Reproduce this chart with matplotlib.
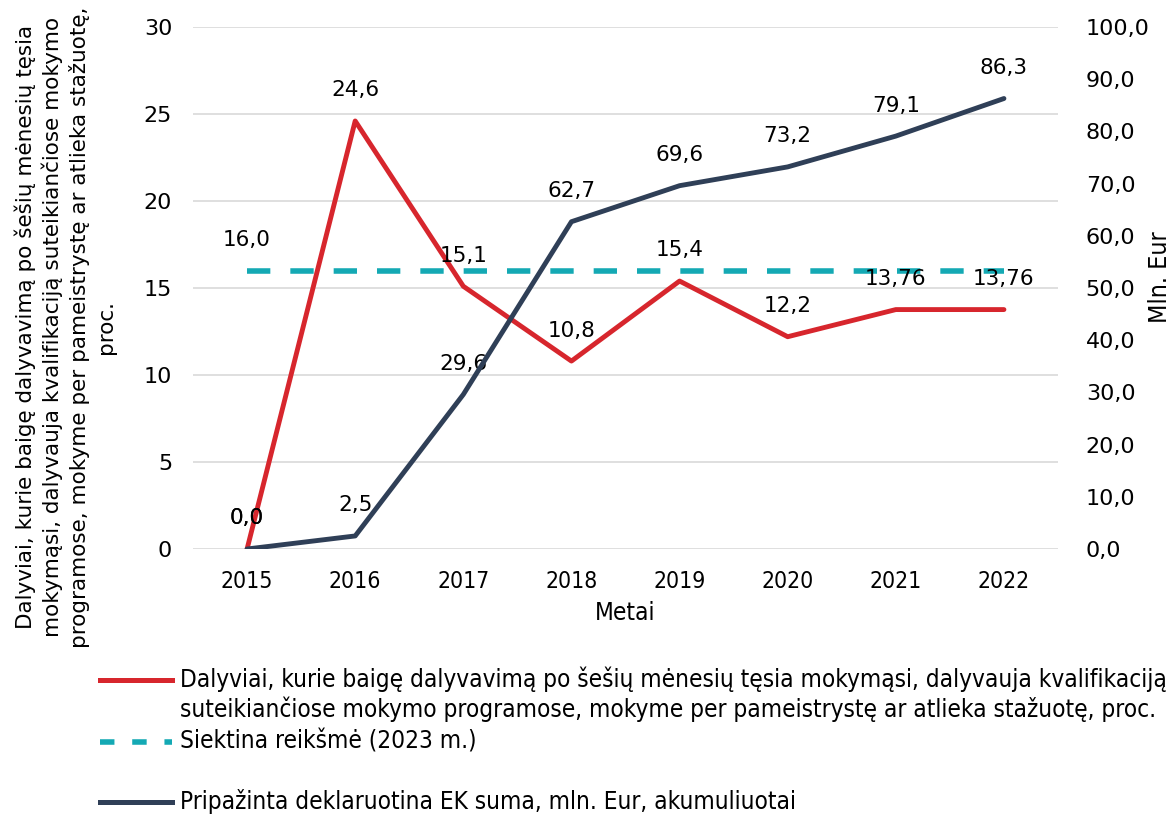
import matplotlib
matplotlib.use('Agg')
import matplotlib.pyplot as plt
from matplotlib.lines import Line2D

plt.rcParams.update({'font.family': 'DejaVu Sans', 'font.size': 15})
NARROW = dict(family='DejaVu Sans', stretch='condensed')

years = ['2015', '2016', '2017', '2018', '2019', '2020', '2021', '2022']
share = [0.0, 24.6, 15.1, 10.8, 15.4, 12.2, 13.76, 13.76]
share_lbl = ['0,0', '24,6', '15,1', '10,8', '15,4', '12,2', '13,76', '13,76']
target = [16.0] * 8
amount = [0.0, 2.5, 29.6, 62.7, 69.6, 73.2, 79.1, 86.3]

RED = '#D7262D'
TEAL = '#14A9B4'
NAVY = '#2F3F57'

W, H = 1174, 814
fig = plt.figure(figsize=(W / 100, H / 100), dpi=100, facecolor='white')
ax = fig.add_axes([193 / W, 1 - 549 / H, 865 / W, 522 / H])
ax2 = ax.twinx()
x = list(range(len(years)))

ax.plot(x, target, color=TEAL, lw=4.0, dashes=(4.2, 3.6), zorder=3)
ax.plot(x, share, color=RED, lw=3.5, zorder=4, solid_capstyle='round')
ax2.plot(x, amount, color=NAVY, lw=3.5, zorder=4, solid_capstyle='round')

ax.set_ylim(0, 30)
ax.set_yticks(range(0, 31, 5))
ax2.set_ylim(0, 100)
ax2.set_yticks(range(0, 101, 10))
ax2.set_yticklabels([f'{v},0' for v in range(0, 101, 10)])
ax.set_xlim(-0.5, len(years) - 0.5)
ax.set_xticks(x)
ax.set_xticklabels(years, fontsize=16.5, **NARROW)
ax.grid(True, axis='y', color='#D9D9D9', lw=1.2)
ax.set_axisbelow(True)
for a in (ax, ax2):
    for s in a.spines.values():
        s.set_visible(False)
    a.tick_params(length=0, labelsize=16)
ax.tick_params(axis='y', pad=15)
ax.tick_params(axis='x', pad=15, labelsize=16.5)
ax2.tick_params(axis='y', pad=20)
ax.set_xlabel('Metai', fontsize=17.5, labelpad=6, **NARROW)
fig.text(1160 / W, 1 - 277 / H, 'Mln. Eur', rotation=90, ha='center', va='center',
         fontsize=18, **NARROW)

fig.text(65 / W, 1 - 327 / H,
         'Dalyviai, kurie baigę dalyvavimą po šešių mėnesių tęsia\n'
         'mokymąsi, dalyvauja kvalifikaciją suteikiančiose mokymo\n'
         'programose, mokyme per pameistrystę ar atlieka stažuotę,\nproc.',
         rotation=90, ha='center', va='center', multialignment='center',
         fontsize=15.5, linespacing=1.34)

# data labels
for i, (v, t) in enumerate(zip(share, share_lbl)):
    ax.annotate(t, (i, v), xytext=(0, 22), textcoords='offset points',
                ha='center', va='center', fontsize=15.5, zorder=6)
ax.annotate('16,0', (0, target[0]), xytext=(0, 22), textcoords='offset points',
            ha='center', va='center', fontsize=15.5)
for i, v in enumerate(amount):
    ax2.annotate(f'{v:.1f}'.replace('.', ','), (i, v), xytext=(0, 22),
                 textcoords='offset points', ha='center', va='center', fontsize=15.5)

# legend drawn by hand
def leg(y, color, dashed=False):
    kw = dict(dashes=(2.6, 3.2)) if dashed else {}
    fig.add_artist(Line2D([100 / W, 172 / W], [1 - y / H, 1 - y / H], color=color,
                          lw=4.0 if dashed else 3.6, transform=fig.transFigure, **kw))

leg(680, RED)
fig.text(180 / W, 1 - 694 / H,
         'Dalyviai, kurie baigę dalyvavimą po šešių mėnesių tęsia mokymąsi, dalyvauja kvalifikaciją\n'
         'suteikiančiose mokymo programose, mokyme per pameistrystę ar atlieka stažuotę, proc.',
         ha='left', va='center', fontsize=17.5, linespacing=1.2, **NARROW)
leg(742, TEAL, dashed=True)
fig.text(180 / W, 1 - 742 / H, 'Siektina reikšmė (2023 m.)', ha='left', va='center',
         fontsize=17.5, **NARROW)
leg(802, NAVY)
fig.text(180 / W, 1 - 802 / H, 'Pripažinta deklaruotina EK suma, mln. Eur, akumuliuotai',
         ha='left', va='center', fontsize=17.5, **NARROW)

fig.savefig('out.png', dpi=100, facecolor='white')
